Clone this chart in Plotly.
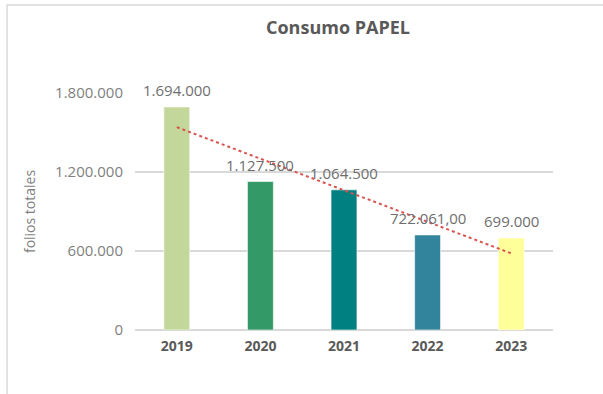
import numpy as np
import plotly.graph_objects as go

# Annual paper consumption (sheets)
years = ["2019", "2020", "2021", "2022", "2023"]
sheets = [1694000, 1127500, 1064500, 722061.00, 699000]
label_decimals = [0, 0, 0, 2, 0]
bar_colors = ["#C4D79B", "#339966", "#008080", "#31849B", "#FFFF99"]
y_ticks = [0, 600000, 1200000, 1800000]

FONT = "Open Sans"


def es_number(value, decimals):
    """Format with '.' thousands and ',' decimal separators."""
    s = f"{value:,.{decimals}f}"
    return s.replace(",", "X").replace(".", ",").replace("X", ".")


fig = go.Figure()

fig.add_trace(go.Bar(
    x=years,
    y=sheets,
    marker=dict(color=bar_colors, line=dict(color="rgba(255,255,255,0.6)", width=1)),
    width=0.31,
    hoverinfo="skip",
    showlegend=False,
))

# Linear trend line over the years
idx = np.arange(len(years))
slope, intercept = np.polyfit(idx, sheets, 1)
trend = slope * idx + intercept
fig.add_trace(go.Scatter(
    x=years,
    y=trend,
    mode="lines",
    line=dict(color="#D9534F", width=2, dash="dot"),
    hoverinfo="skip",
    showlegend=False,
))

# Value labels above each bar (category index positions)
for i, (v, d) in enumerate(zip(sheets, label_decimals)):
    fig.add_annotation(
        x=i, y=v, text=es_number(v, d),
        showarrow=False, yanchor="bottom", yshift=5,
        font=dict(family=FONT, size=15, color="#6E6E6E"),
    )

# Chart frame
fig.add_shape(
    type="rect", xref="paper", yref="paper",
    x0=-0.306, x1=1.5, y0=-0.6, y1=1.371,
    line=dict(color="#D9D9D9", width=1.5), layer="below",
)

fig.update_layout(
    width=603,
    height=394,
    margin=dict(l=135, r=50, t=93, b=64),
    paper_bgcolor="white",
    plot_bgcolor="white",
    separators=",.",
    title=dict(
        text="<b>Consumo PAPEL</b>",
        x=338 / 603, xanchor="center",
        y=1 - 28 / 394, yanchor="middle",
        font=dict(family=FONT, size=18, color="#595959"),
    ),
    xaxis=dict(
        type="category",
        range=[-0.5, len(years) - 0.5],
        showgrid=False,
        showline=False,
        ticks="",
        ticklabelstandoff=6,
        tickfont=dict(family=FONT, size=14, color="#595959", weight="bold"),
    ),
    yaxis=dict(
        range=[0, 1800000],
        tickvals=y_ticks,
        tickformat=",d",
        showgrid=True,
        gridcolor="#D9D9D9",
        gridwidth=1.5,
        zeroline=True,
        zerolinecolor="#D9D9D9",
        zerolinewidth=1.5,
        showline=False,
        ticks="",
        ticklabelstandoff=11,
        tickfont=dict(family=FONT, size=15, color="#7F7F7F"),
        title=dict(
            text="folios totales",
            standoff=16,
            font=dict(family=FONT, size=14, color="#7F7F7F"),
        ),
    ),
)

fig.write_html("out.html")
